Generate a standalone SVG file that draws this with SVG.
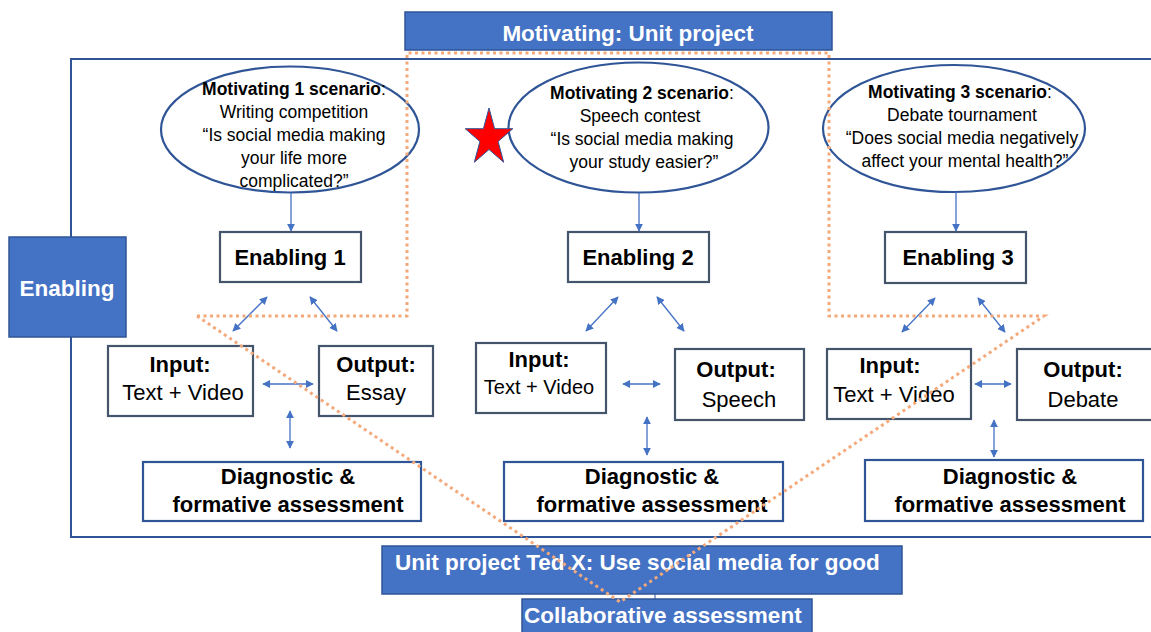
<svg xmlns="http://www.w3.org/2000/svg" width="1151" height="632" viewBox="0 0 1151 632">
<defs>
<marker id="ah" viewBox="0 0 10 10" refX="9" refY="5" markerWidth="8" markerHeight="8" markerUnits="userSpaceOnUse" orient="auto-start-reverse">
<path d="M0,0 L10,5 L0,10 z" fill="#4472C4"/>
</marker>
<style>
text{font-family:"Liberation Sans",Arial,sans-serif;fill:#000}
.t{font-size:17.5px;text-anchor:middle}
.b{font-weight:bold}
.m{font-size:22px;text-anchor:middle}
.w{fill:#fff;font-weight:bold;font-size:22.5px}
.blue{fill:#4472C4;stroke:#2F5597;stroke-width:1.5}
.ell{fill:#fff;stroke:#2F5597;stroke-width:2.2}
.box{fill:#fff;stroke:#44546A;stroke-width:2.2}
.dbox{fill:#fff;stroke:#2F5597;stroke-width:2.2}
.c{stroke:#4472C4;stroke-width:1.3;fill:none}
.dot{stroke:#F4A97A;stroke-width:3;stroke-dasharray:3 3.5;fill:none}
</style>
</defs>
<rect id="frame" x="71" y="59" width="1095" height="478" fill="none" stroke="#2F5597" stroke-width="2"/>
<g id="motivating-unit-project"><rect class="blue" x="405" y="12" width="427" height="38"/><text class="w" x="628" y="41" text-anchor="middle">Motivating: Unit project</text></g>
<g id="enabling"><rect class="blue" x="9" y="237" width="117" height="100"/><text class="w" x="67" y="296" text-anchor="middle">Enabling</text></g>
<g id="scenario1"><ellipse class="ell" cx="290" cy="129.5" rx="129" ry="63"/>
<text class="t" x="294" y="95"><tspan class="b">Motivating 1 scenario</tspan>:</text>
<text class="t" x="294" y="118">Writing competition</text>
<text class="t" x="294" y="141">“Is social media making</text>
<text class="t" x="294" y="164">your life more</text>
<text class="t" x="294" y="187">complicated?”</text></g>
<g id="scenario2"><ellipse class="ell" cx="638.5" cy="127.5" rx="130" ry="65"/>
<text class="t" x="642" y="99"><tspan class="b">Motivating 2 scenario</tspan>:</text>
<text class="t" x="640" y="122">Speech contest</text>
<text class="t" x="642" y="145">“Is social media making</text>
<text class="t" x="644" y="168">your study easier?”</text></g>
<g id="star"><polygon points="489,108 494.6,128.7 512.8,128.7 498.1,141.5 503.7,162.3 489,149.5 474.3,162.3 479.9,141.5 465.2,128.7 483.4,128.7" fill="#FF0000" stroke="#2F5597" stroke-width="1"/></g>
<g id="scenario3"><ellipse class="ell" cx="954" cy="128.5" rx="131" ry="63.5"/>
<text class="t" x="960" y="98"><tspan class="b">Motivating 3 scenario</tspan>:</text>
<text class="t" x="962" y="121">Debate tournament</text>
<text class="t" x="962" y="144">“Does social media negatively</text>
<text class="t" x="965" y="167">affect your mental health?”</text></g>
<g id="enabling1"><rect class="box" x="220" y="232" width="141" height="50"/><text class="m b" x="290" y="265">Enabling 1</text></g>
<g id="enabling2"><rect class="box" x="568" y="232" width="141" height="50"/><text class="m b" x="638" y="265">Enabling 2</text></g>
<g id="enabling3"><rect class="box" x="885" y="232" width="141" height="51"/><text class="m b" x="958" y="265">Enabling 3</text></g>
<g id="input1"><rect class="box" x="108" y="346" width="145" height="70"/><text class="m b" x="180" y="372">Input:</text><text class="m" x="183" y="400">Text + Video</text></g>
<g id="output1"><rect class="box" x="319" y="346" width="114" height="70"/><text class="m b" x="376" y="372">Output:</text><text class="m" x="376" y="400">Essay</text></g>
<g id="input2"><rect class="box" x="476" y="343" width="130" height="70"/><text class="m b" x="539" y="367">Input:</text><text class="m" x="539" y="394" style="font-size:20px">Text + Video</text></g>
<g id="output2"><rect class="box" x="675" y="349" width="129" height="71"/><text class="m b" x="736" y="377">Output:</text><text class="m" x="739" y="407">Speech</text></g>
<g id="input3"><rect class="box" x="827" y="349" width="144" height="70"/><text class="m b" x="890" y="373">Input:</text><text class="m" x="894" y="402">Text + Video</text></g>
<g id="output3"><rect class="box" x="1017" y="349" width="140" height="71"/><text class="m b" x="1083" y="377">Output:</text><text class="m" x="1083" y="407">Debate</text></g>
<g id="diag1"><rect class="dbox" x="143" y="462" width="278" height="59"/><text class="m b" x="288" y="484">Diagnostic &amp;</text><text class="m b" x="288" y="512">formative assessment</text></g>
<g id="diag2"><rect class="dbox" x="504" y="462" width="279" height="59"/><text class="m b" x="652" y="484">Diagnostic &amp;</text><text class="m b" x="652" y="512">formative assessment</text></g>
<g id="diag3"><rect class="dbox" x="865" y="460" width="278" height="61"/><text class="m b" x="1010" y="484">Diagnostic &amp;</text><text class="m b" x="1010" y="512">formative assessment</text></g>
<g id="unit-project"><rect class="blue" x="382" y="546" width="520" height="48"/><text class="w" x="395" y="570">Unit project Ted X: Use social media for good</text></g>
<g id="collab"><rect class="blue" x="522" y="599" width="290" height="40"/><text class="w" x="524" y="623">Collaborative assessment</text></g>
<g id="connectors">
<line class="c" x1="291" y1="193" x2="291" y2="231" marker-end="url(#ah)"/>
<line class="c" x1="639" y1="193" x2="639" y2="231" marker-end="url(#ah)"/>
<line class="c" x1="956" y1="192" x2="956" y2="231" marker-end="url(#ah)"/>
<line class="c" x1="267" y1="297" x2="233" y2="331" marker-start="url(#ah)" marker-end="url(#ah)"/>
<line class="c" x1="310" y1="297" x2="337" y2="331" marker-start="url(#ah)" marker-end="url(#ah)"/>
<line class="c" x1="263" y1="384" x2="313" y2="384" marker-start="url(#ah)" marker-end="url(#ah)"/>
<line class="c" x1="290" y1="411" x2="290" y2="448" marker-start="url(#ah)" marker-end="url(#ah)"/>
<line class="c" x1="618" y1="297" x2="586" y2="331" marker-start="url(#ah)" marker-end="url(#ah)"/>
<line class="c" x1="657" y1="297" x2="684" y2="331" marker-start="url(#ah)" marker-end="url(#ah)"/>
<line class="c" x1="623" y1="384" x2="660" y2="384" marker-start="url(#ah)" marker-end="url(#ah)"/>
<line class="c" x1="647" y1="417" x2="647" y2="455" marker-start="url(#ah)" marker-end="url(#ah)"/>
<line class="c" x1="935" y1="298" x2="902" y2="332" marker-start="url(#ah)" marker-end="url(#ah)"/>
<line class="c" x1="978" y1="298" x2="1005" y2="332" marker-start="url(#ah)" marker-end="url(#ah)"/>
<line class="c" x1="975" y1="384" x2="1011" y2="384" marker-start="url(#ah)" marker-end="url(#ah)"/>
<line class="c" x1="994" y1="420" x2="994" y2="457" marker-start="url(#ah)" marker-end="url(#ah)"/>
<line x1="655" y1="594" x2="655" y2="599" stroke="#2F5597" stroke-width="1"/>
</g>
<g id="dotted-outline">
<polyline class="dot" points="197,316 407,316 407,53 829,53 829,316 1044,316 620,602 197,316"/>
</g>
</svg>
